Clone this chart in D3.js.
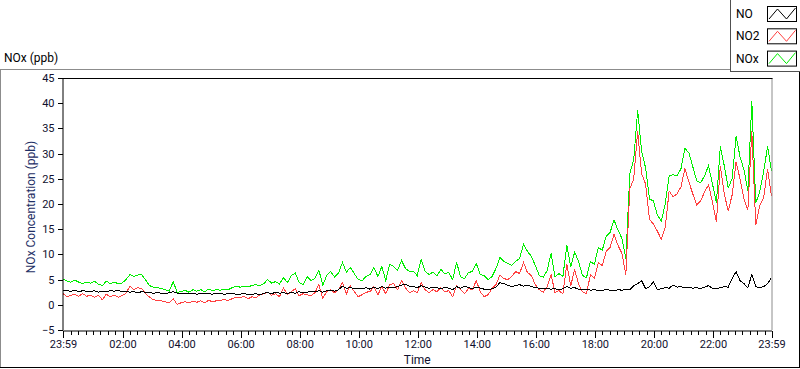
<!DOCTYPE html>
<html><head><meta charset="utf-8">
<script src="https://cdn.jsdelivr.net/npm/d3@7"></script>
<style>
html,body{margin:0;padding:0;background:#fff;}
svg{display:block;font-family:Roboto,"DejaVu Sans",sans-serif;}
</style></head><body><svg id="c" width="800" height="369"></svg>
<script>
// ---------------- data ----------------
const seriesNames = ["NO", "NO2", "NOx"];
const seriesColors = ["#000000", "#ff4040", "#00ee00"];
const sampleStepMinutes = 8; // one value every 8 minutes from 23:59
const noValues = [
2.9,2.8,2.7,2.9,2.6,2.8,2.7,2.6,2.8,2.5,2.7,2.6,2.8,2.7,2.9,2.6,2.7,2.5,2.6,2.4,2.6,2.5,2.4,2.3,2.4,2.3,2.2,2.4,2.6,2.3,2.2,2.3,2.2,2.3,2.1,2.2,2.3,2.2,2.1,2.3,2.2,2.1,2.2,2.3,2.1,
2.1,2.3,2.0,2.1,2.2,2.0,2.3,2.4,2.2,2.5,2.3,2.4,2.2,2.5,2.3,2.6,2.4,2.5,2.7,2.6,2.8,2.5,2.8,2.9,2.7,3.0,3.7,3.3,3.4,3.2,3.3,3.2,3.4,3.1,3.5,3.2,3.6,3.3,3.5,3.4,3.6,3.9,4.1,3.7,3.6,
3.4,3.8,3.5,3.3,3.5,3.4,3.2,3.5,3.3,3.0,3.6,3.3,3.7,3.4,3.2,3.5,3.3,3.1,3.0,3.2,3.5,4.4,4.2,3.9,3.6,3.8,4.0,3.7,3.9,3.6,3.4,3.3,3.2,3.3,3.1,3.2,3.0,3.2,3.6,3.3,3.4,3.1,3.0,3.1,
2.9,3.0,2.8,2.9,3.0,2.9,2.8,3.0,2.9,3.1,3.0,3.8,4.2,4.8,3.2,3.6,4.6,3.0,3.2,3.4,3.3,3.9,3.5,3.6,
3.4,3.5,3.3,3.4,3.2,3.5,3.8,3.3,3.2,3.4,3.6,3.5,5.2,6.6,4.8,4.2,3.4,6.0,3.6,3.4,3.6,4.2,5.4];
const no2Values = [
2.2,1.6,1.9,2.1,1.7,2.2,1.7,1.9,1.5,1.9,1.0,2.1,1.6,1.9,1.5,1.8,2.3,3.7,3.0,3.4,3.2,2.2,1.5,1.0,0.9,0.8,0.6,0.4,1.2,0.1,0.4,0.6,0.4,0.7,0.5,0.8,0.4,0.9,0.6,0.8,0.9,1.0,0.9,1.2,1.5,
1.4,1.7,1.2,1.6,1.4,2.0,2.2,2.5,1.9,2.2,1.6,3.4,2.0,2.6,3.2,1.8,2.2,2.0,1.8,2.4,4.0,1.3,2.6,3.0,2.4,3.0,4.4,2.2,3.8,2.6,1.6,2.0,2.5,2.6,3.6,2.0,3.6,2.2,4.0,4.2,3.0,4.8,3.4,2.4,2.8,
2.4,4.4,3.0,2.4,3.0,2.6,3.4,2.6,2.8,1.6,3.8,3.0,2.2,3.2,3.0,4.8,2.6,1.6,2.0,3.2,4.0,5.9,5.2,5.0,5.6,6.6,6.2,8.4,6.4,5.8,4.0,3.0,2.5,3.6,6.0,2.4,2.8,2.2,8.0,3.8,7.0,4.0,2.6,2.2,
6.0,5.2,8.4,7.8,10.6,11.4,14.0,11.8,10.2,6.0,23.0,25.0,34.4,26.0,24.0,17.0,16.0,14.6,13.0,15.4,22.6,21.4,22.0,23.4,
27.0,24.4,22.0,19.8,20.6,22.4,23.8,20.4,16.4,27.6,22.0,18.6,21.8,28.4,25.0,21.0,18.8,34.4,15.8,19.6,21.2,27.0,21.6];
const noxValues = [
5.1,4.7,4.5,4.9,4.5,4.2,4.5,4.3,4.7,4.1,3.8,4.7,4.2,4.5,4.2,4.3,5.0,6.0,5.6,5.9,6.0,4.9,3.8,3.5,3.4,3.2,3.0,2.7,4.6,2.5,2.6,2.9,2.5,3.0,2.7,3.0,2.6,3.1,2.8,3.0,2.9,3.1,3.0,3.4,3.7,
3.5,3.7,3.6,3.8,4.0,3.8,4.2,5.0,4.3,4.6,4.1,5.4,4.4,5.8,6.3,4.4,4.0,5.6,4.8,5.2,6.9,3.9,5.8,6.6,5.5,6.3,8.4,6.5,7.4,6.2,5.0,4.8,5.6,6.0,7.4,5.6,7.6,4.8,8.0,7.6,6.8,8.8,7.2,6.6,6.6,
5.8,9.0,6.6,6.0,6.5,5.8,7.0,6.2,6.4,5.0,8.4,5.6,5.2,6.4,6.6,8.2,6.0,5.8,5.0,5.6,7.2,9.4,8.6,8.2,7.8,8.6,9.2,12.0,10.6,9.6,7.8,5.8,5.5,6.8,10.2,5.6,6.2,5.6,11.8,7.5,10.5,8.5,5.8,5.4,
8.6,8.0,11.4,10.8,13.6,14.4,16.8,14.8,13.2,9.2,26.0,28.8,38.6,30.4,27.2,21.0,20.6,17.8,16.6,20.0,25.6,25.8,25.6,27.0,
31.0,30.2,27.4,24.6,24.2,25.6,27.6,24.0,20.2,31.4,27.6,23.2,25.0,33.4,29.4,26.8,22.6,40.4,20.2,22.4,26.4,31.4,26.6];
const yTickValues = [-5, 0, 5, 10, 15, 20, 25, 30, 35, 40, 45];
const xTickLabels = ["23:59","02:00","04:00","06:00","08:00","10:00","12:00","14:00","16:00","18:00","20:00","22:00","23:59"];

// ---------------- layout ----------------
const svg = d3.select("#c");
const plot = {left: 63, right: 771.5, top: 78, bottom: 330};
const start = new Date(2020, 0, 1, 23, 59);
const end = d3.timeMinute.offset(start, 1440);
const x = d3.scaleTime().domain([start, end]).range([plot.left, plot.right]);
const y = d3.scaleLinear().domain([-5, 45]).range([plot.bottom, plot.top]);

const majorTicks = xTickLabels.map((s, k) => {
  if (k === 0) return start;
  if (k === xTickLabels.length - 1) return end;
  const [h, m] = s.split(":").map(Number);
  return new Date(2020, 0, 2, h, m);
});
const minorTicks = d3.timeMinute.every(15).range(new Date(2020, 0, 2, 0, 0), end);

// outer panel frame
svg.append("line").attr("x1", 0).attr("x2", 731).attr("y1", 69.5).attr("y2", 69.5).attr("stroke", "#8c8c8c");
svg.append("line").attr("x1", 0.5).attr("x2", 0.5).attr("y1", 69).attr("y2", 368).attr("stroke", "#8c8c8c");
svg.append("line").attr("x1", 0).attr("x2", 800).attr("y1", 367.5).attr("y2", 367.5).attr("stroke", "#000");
svg.append("line").attr("x1", 799.5).attr("x2", 799.5).attr("y1", 71).attr("y2", 368).attr("stroke", "#000");

// title
svg.append("text").attr("x", 4).attr("y", 62).attr("font-size", 12).attr("fill", "#000").text("NOx (ppb)");

// clip
svg.append("clipPath").attr("id", "clip").append("rect")
  .attr("x", plot.left).attr("y", plot.top).attr("width", plot.right - plot.left + 1).attr("height", plot.bottom - plot.top);

// series
const times = noValues.map((_, i) => d3.timeMinute.offset(start, i * sampleStepMinutes));
const line = d3.line().x((d, i) => x(times[i])).y(d => y(d));
const gLines = svg.append("g").attr("clip-path", "url(#clip)");
[[noxValues, 2], [no2Values, 1], [noValues, 0]].forEach(([vals, k]) => {
  gLines.append("path").datum(vals).attr("d", line)
    .attr("fill", "none").attr("stroke", seriesColors[k]).attr("stroke-width", 1)
    .attr("shape-rendering", "crispEdges");
});

// plot frame
svg.append("line").attr("x1", plot.right + 0.5).attr("x2", plot.right + 0.5).attr("y1", plot.top).attr("y2", plot.bottom).attr("stroke", "#8c8c8c");
svg.append("line").attr("x1", 62).attr("x2", plot.right + 1).attr("y1", plot.top + 0.5).attr("y2", plot.top + 0.5).attr("stroke", "#000");

// axes
const tickColor = "#10102e";
const yAxis = svg.append("g").attr("transform", `translate(${plot.left - 0.5},0)`)
  .call(d3.axisLeft(y).tickValues(yTickValues).tickSize(5).tickSizeOuter(0).tickPadding(3));
yAxis.select(".domain").attr("stroke", "#000");
yAxis.selectAll(".tick line").attr("stroke", "#000");
yAxis.selectAll("text").attr("font-size", 11).attr("font-family", "Roboto").attr("fill", tickColor);

const xMinor = svg.append("g").attr("transform", `translate(0,${plot.bottom + 0.5})`)
  .call(d3.axisBottom(x).tickValues(minorTicks).tickSize(4).tickFormat(""));
xMinor.select(".domain").remove();
const xAxis = svg.append("g").attr("transform", `translate(0,${plot.bottom + 0.5})`)
  .call(d3.axisBottom(x).tickValues(majorTicks).tickSize(7).tickSizeOuter(0).tickPadding(3)
    .tickFormat((d, k) => xTickLabels[k]));
xAxis.select(".domain").attr("stroke", "#000");
svg.selectAll(".tick line").attr("shape-rendering", "crispEdges");
xAxis.selectAll("text").attr("font-size", 11).attr("font-family", "Roboto").attr("fill", tickColor);

// axis titles
svg.append("text").attr("transform", "translate(35,207) rotate(-90)").attr("text-anchor", "middle")
  .attr("font-size", 12).attr("fill", "#1f2f66").text("NOx Concentration (ppb)");
svg.append("text").attr("x", (plot.left + plot.right) / 2).attr("y", 364).attr("text-anchor", "middle")
  .attr("font-size", 12).attr("fill", "#10102e").text("Time");

// legend
const lg = svg.append("g");
lg.append("rect").attr("x", 730.5).attr("y", -2).attr("width", 72).attr("height", 73.5)
  .attr("fill", "#fff").attr("stroke", "#505050");
seriesNames.forEach((name, k) => {
  const by = 6.5 + k * 22.3;
  lg.append("text").attr("x", 736).attr("y", by + 11.5).attr("font-size", 12).attr("fill", "#000").text(name);
  lg.append("rect").attr("x", 767.5).attr("y", by).attr("width", 29).attr("height", 15)
    .attr("fill", "#fff").attr("stroke", "#000");
  const bx = 767.5;
  lg.append("path").attr("d", `M${bx+1.5},${by+12.5}L${bx+10},${by+2.5}L${bx+19},${by+12.5}L${bx+28},${by+1.5}`)
    .attr("fill", "none").attr("stroke", seriesColors[k]).attr("stroke-width", 1);
});
</script></body></html>
